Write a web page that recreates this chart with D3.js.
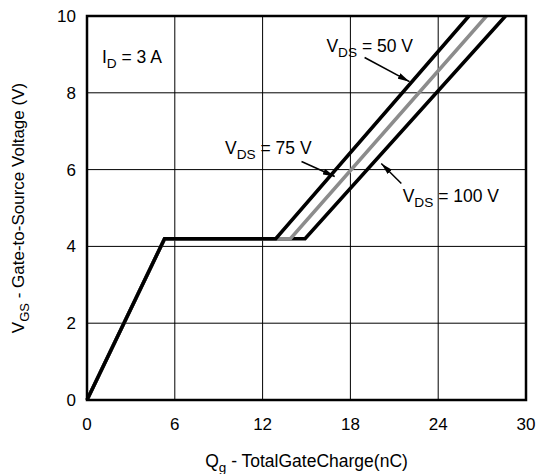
<!DOCTYPE html>
<html>
<head>
<meta charset="utf-8">
<script src="https://cdn.jsdelivr.net/npm/d3@7"></script>
<style>
  body { margin: 0; background: #fff; }
  svg { display: block; font-family: "Liberation Sans", Arial, Helvetica, sans-serif; }
</style>
</head>
<body>
<div id="chart"></div>
<script>
// gate charge curves (nC, V)
const qgCommon = [0, 5.3];
const vgsCommon = [0, 4.2];
const plateauV = 4.2;
const seriesNames = ["VDS = 50 V", "VDS = 75 V", "VDS = 100 V"];
const plateauEnd = [12.9, 13.9, 14.9];
const topQ = [26.1, 27.3, 28.6];
const topV = [10, 10, 10];
const seriesColors = ["#000", "#8c8c8c", "#000"];

const xTicks = [0, 6, 12, 18, 24, 30];
const yTicks = [0, 2, 4, 6, 8, 10];

const width = 536;
const height = 474;
const m = { top: 16, right: 10, bottom: 74, left: 87 };

const svg = d3.select("#chart").append("svg")
  .attr("width", width)
  .attr("height", height);

const x = d3.scaleLinear().domain([0, 30]).range([m.left, width - m.right]);
const y = d3.scaleLinear().domain([0, 10]).range([height - m.bottom, m.top]);

// grid
svg.append("g")
  .selectAll("line")
  .data(xTicks.slice(1, -1))
  .join("line")
  .attr("x1", (d) => x(d)).attr("x2", (d) => x(d))
  .attr("y1", y(0)).attr("y2", y(10))
  .attr("stroke", "#000").attr("stroke-width", 1);

svg.append("g")
  .selectAll("line")
  .data(yTicks.slice(1, -1))
  .join("line")
  .attr("x1", x(0)).attr("x2", x(30))
  .attr("y1", (d) => y(d)).attr("y2", (d) => y(d))
  .attr("stroke", "#000").attr("stroke-width", 1);

// tick labels
svg.append("g")
  .selectAll("text")
  .data(xTicks)
  .join("text")
  .attr("x", (d) => x(d))
  .attr("y", y(0) + 30)
  .attr("text-anchor", "middle")
  .attr("font-size", 17)
  .text((d) => d);

svg.append("g")
  .selectAll("text")
  .data(yTicks)
  .join("text")
  .attr("x", x(0) - 11)
  .attr("y", (d) => y(d) + 6)
  .attr("text-anchor", "end")
  .attr("font-size", 17)
  .text((d) => d);

// curves
const line = d3.line().x((d) => x(d[0])).y((d) => y(d[1]));
const curves = seriesNames.map((name, i) => {
  const pts = qgCommon.map((q, j) => [q, vgsCommon[j]]);
  pts.push([plateauEnd[i], plateauV]);
  pts.push([topQ[i], topV[i]]);
  return { name, pts, color: seriesColors[i] };
});

// draw 100 V first, then 75 V, then 50 V on top
svg.append("g")
  .selectAll("path")
  .data([curves[2], curves[1], curves[0]])
  .join("path")
  .attr("d", (d) => line(d.pts))
  .attr("fill", "none")
  .attr("stroke", (d) => d.color)
  .attr("stroke-width", 3.5)
  .attr("stroke-linejoin", "miter");

// frame
svg.append("rect")
  .attr("x", x(0)).attr("y", y(10))
  .attr("width", x(30) - x(0)).attr("height", y(0) - y(10))
  .attr("fill", "none").attr("stroke", "#000").attr("stroke-width", 2.5);

// label with subscript
function subLabel(g, px, py, main, sub, rest, size) {
  const t = g.append("text").attr("x", px).attr("y", py).attr("font-size", size);
  t.append("tspan").text(main);
  t.append("tspan").attr("font-size", size * 0.78).attr("dy", size * 0.3).text(sub);
  t.append("tspan").attr("dy", -size * 0.3).text(rest);
  return t;
}

const ann = svg.append("g");
subLabel(ann, x(1.02), y(8.77), "I", "D", " = 3 A", 17.5);

// annotation text positions and arrows, in data units
const annText = [" = 50 V", " = 75 V", " = 100 V"];
const annTextPos = [[16.36, 9.07], [9.43, 6.41], [21.57, 5.16]];
const arrowFrom = [[18.97, 8.92], [14.66, 6.21], [21.48, 5.64]];
const arrowTo = [[22.04, 8.29], [16.93, 5.82], [20.11, 6.16]];

svg.append("defs").append("marker")
  .attr("id", "head")
  .attr("viewBox", "0 0 12 6")
  .attr("refX", 12).attr("refY", 3)
  .attr("markerWidth", 12).attr("markerHeight", 6)
  .attr("markerUnits", "userSpaceOnUse")
  .attr("orient", "auto")
  .append("path")
  .attr("d", "M0,0L12,3L0,6Z")
  .attr("fill", "#000");

annText.forEach((txt, i) => {
  subLabel(ann, x(annTextPos[i][0]), y(annTextPos[i][1]), "V", "DS", txt, 17.5);
  ann.append("line")
    .attr("x1", x(arrowFrom[i][0])).attr("y1", y(arrowFrom[i][1]))
    .attr("x2", x(arrowTo[i][0])).attr("y2", y(arrowTo[i][1]))
    .attr("stroke", "#000").attr("stroke-width", 1.5)
    .attr("marker-end", "url(#head)");
});

// axis titles
const xt = svg.append("text")
  .attr("x", (x(0) + x(30)) / 2)
  .attr("y", 467)
  .attr("text-anchor", "middle")
  .attr("font-size", 17.5);
xt.append("tspan").text("Q");
xt.append("tspan").attr("font-size", 13.5).attr("dy", 5).text("g");
xt.append("tspan").attr("dy", -5).text(" - TotalGateCharge(nC)");

const yt = svg.append("text")
  .attr("transform", `translate(24,${(y(0) + y(10)) / 2}) rotate(-90)`)
  .attr("text-anchor", "middle")
  .attr("font-size", 17);
yt.append("tspan").text("V");
yt.append("tspan").attr("font-size", 13).attr("dy", 5).text("GS");
yt.append("tspan").attr("dy", -5).text(" - Gate-to-Source Voltage (V)");
</script>
</body>
</html>
